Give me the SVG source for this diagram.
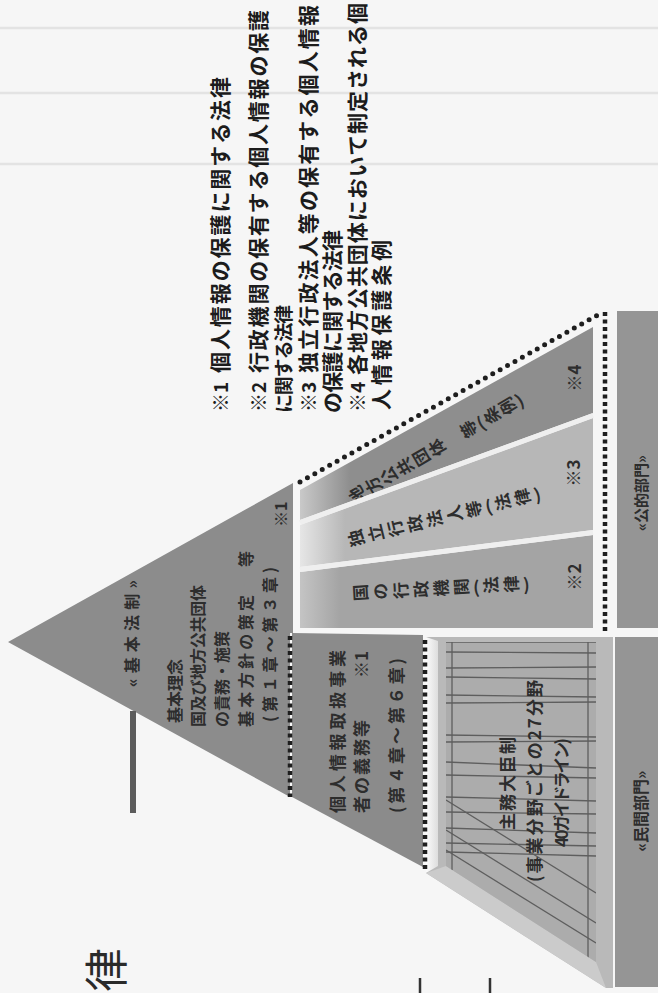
<svg xmlns="http://www.w3.org/2000/svg" width="658" height="993" viewBox="0 0 658 993">
<style>
.t{font-family:'Noto Sans CJK JP','Noto Sans',sans-serif;font-weight:700;fill:#2d2d2d;dominant-baseline:central}
.fn{fill:#1c1c1c;font-size:21px}
.mk{font-size:19px}
.blk{font-size:17px}
.v{writing-mode:vertical-rl}
.sq{stroke:#1e1e1e;stroke-width:4.5;stroke-dasharray:4 3.5;fill:none}
.rd{stroke:#1e1e1e;stroke-width:5;stroke-dasharray:0 8.5;stroke-linecap:round;fill:none}
.pl{stroke:#5e5e5e;stroke-width:1.3;fill:none}
.bar{fill:#959595}
</style>
<defs>
<linearGradient id="g2" gradientUnits="userSpaceOnUse" x1="300" y1="0" x2="345" y2="0"><stop offset="0" stop-color="#e6e6e6"/><stop offset="1" stop-color="#b7b7b7"/></linearGradient>
<linearGradient id="g3" gradientUnits="userSpaceOnUse" x1="300" y1="0" x2="350" y2="0"><stop offset="0" stop-color="#c9c9c9"/><stop offset="1" stop-color="#8e8e8e"/></linearGradient>
<linearGradient id="g1" gradientUnits="userSpaceOnUse" x1="300" y1="0" x2="340" y2="0"><stop offset="0" stop-color="#c4c4c4"/><stop offset="1" stop-color="#a4a4a4"/></linearGradient>
<linearGradient id="gw" gradientUnits="userSpaceOnUse" x1="426" y1="0" x2="440" y2="0"><stop offset="0" stop-color="#fbfbfb"/><stop offset="1" stop-color="#d8d8d8"/></linearGradient>
<clipPath id="panelClip"><polygon points="446,642 596,642 596,962 446,866"/></clipPath>
</defs>
<rect x="0" y="0" width="658" height="993" fill="#f6f6f6"/>
<g id="page-lines" stroke="#e3e3e3" stroke-width="2.5">
<line x1="0" y1="28" x2="658" y2="28"/>
<line x1="0" y1="93" x2="658" y2="93"/>
<line x1="0" y1="164" x2="658" y2="164"/>
</g>

<g id="title">
<text class="t" style="font-size:44px;fill:#2a2a2a;font-weight:400" transform="translate(104,992) rotate(-90)">律</text>
<line x1="420" y1="978" x2="420" y2="993" stroke="#333" stroke-width="2.5"/>
<line x1="490" y1="978" x2="490" y2="993" stroke="#333" stroke-width="2.5"/>
</g>

<g id="node-kihon">
<polygon points="8,642 293,483 293,633 290,633 290,797" fill="#8c8c8c"/>
<text class="t" style="font-size:16px" transform="translate(131,687) rotate(-90)" textLength="107" lengthAdjust="spacing">«基本法制»</text>
<text class="t" style="font-size:16px" transform="translate(174,723) rotate(-90)">基本理念</text>
<text class="t" style="font-size:16px" transform="translate(197,727) rotate(-90)" textLength="142" lengthAdjust="spacing">国及び地方公共団体</text>
<text class="t" style="font-size:16px" transform="translate(221,727) rotate(-90)">の責務・施策</text>
<text class="t" style="font-size:16px" transform="translate(245,727) rotate(-90)" textLength="132" lengthAdjust="spacing">基本方針の策定</text>
<text class="t" style="font-size:16px" transform="translate(245,567) rotate(-90)">等</text>
<text class="t" style="font-size:16px" transform="translate(269,722) rotate(-90)" textLength="155" lengthAdjust="spacing">(第１章〜第３章)</text>
<text class="t" style="font-size:16px" transform="translate(280,527) rotate(-90)">※1</text>
</g>

<g id="node-private-duty">
<polygon points="292,633 423,635 423,867 292,797" fill="#8b8b8b"/>
<text class="t blk" transform="translate(336,813) rotate(-90)" textLength="163" lengthAdjust="spacing">個人情報取扱事業</text>
<text class="t blk" transform="translate(360,813) rotate(-90)" textLength="93" lengthAdjust="spacing">者の義務等</text>
<text class="t blk" transform="translate(360,678) rotate(-90)">※1</text>
<text class="t blk" transform="translate(395,813) rotate(-90)" textLength="155" lengthAdjust="spacing">(第４章〜第６章)</text>
</g>

<g id="node-private-minister">
<polygon points="426,637 613,637 613,988 606,988 426,873" fill="#b9b9b9"/>
<polygon points="426,637 438,641 438,866 426,873" fill="url(#gw)"/>
<polygon points="426,873 446,866 596,962 606,988" fill="#cbcbcb"/>
<polygon points="446,642 596,642 596,962 446,866" fill="#acacac"/>
<g clip-path="url(#panelClip)">
<g class="pl">
<line x1="446" y1="652" x2="596" y2="653"/>
<line x1="446" y1="668" x2="596" y2="667"/>
<line x1="446" y1="677" x2="596" y2="679"/>
<line x1="446" y1="695" x2="596" y2="697"/>
<line x1="446" y1="703" x2="596" y2="702"/>
<line x1="446" y1="735" x2="596" y2="737"/>
<line x1="446" y1="742" x2="596" y2="741"/>
<line x1="446" y1="762" x2="596" y2="768"/>
<line x1="446" y1="775" x2="596" y2="778"/>
<line x1="446" y1="797" x2="596" y2="801"/>
<line x1="446" y1="812" x2="596" y2="814"/>
<line x1="446" y1="828" x2="596" y2="833"/>
<line x1="446" y1="843" x2="596" y2="846"/>
<line x1="446" y1="852" x2="596" y2="856"/>
<line x1="446" y1="800" x2="596" y2="893"/>
<line x1="446" y1="830" x2="596" y2="923"/>
<line x1="446" y1="850" x2="596" y2="943"/>
<line x1="452" y1="642" x2="452" y2="870"/>
<line x1="588" y1="642" x2="588" y2="958"/>
<line x1="446" y1="642" x2="596" y2="642"/>
</g>
</g>
<text class="t blk" transform="translate(506,830) rotate(-90)" textLength="93" lengthAdjust="spacing">主務大臣制</text>
<text class="t blk" transform="translate(533,882) rotate(-90)" textLength="202" lengthAdjust="spacing">(事業分野ごとの27分野</text>
<text class="t blk" transform="translate(560,847) rotate(-90)" textLength="109" lengthAdjust="spacing">40ガイドライン)</text>
</g>

<g id="node-public-national">
<polygon points="300,572 593,535 593,628 300,628" fill="url(#g1)"/>
<text class="t blk v" style="letter-spacing:3.2px" transform="translate(352,593) rotate(-93.2)">国の行政機関(法律)</text>
<text class="t blk" transform="translate(573,577) rotate(-90)" text-anchor="middle">※2</text>
</g>
<g id="node-public-agency">
<polygon points="300,525 593,418 593,530 300,567" fill="url(#g2)"/>
<text class="t blk v" style="letter-spacing:3.2px" transform="translate(348,540) rotate(-103.8)">独立行政法人等(法律)</text>
<text class="t blk" transform="translate(572,473) rotate(-90)" text-anchor="middle">※3</text>
</g>
<g id="node-public-local">
<polygon points="300,490 593,327 593,413 300,520" fill="url(#g3)"/>
<text class="t blk v" style="letter-spacing:1.5px" transform="translate(350,499) rotate(-120.5)">地方公共団体　等(条例)</text>
<text class="t blk" transform="translate(573,378) rotate(-90)" text-anchor="middle">※4</text>
</g>
<g id="bevels" stroke="#efefef" stroke-width="5">
<line x1="300" y1="569.5" x2="593" y2="532.5"/>
<line x1="300" y1="522.5" x2="593" y2="415.5"/>
</g>

<g id="node-bar-public">
<rect class="bar" x="617" y="311" width="41" height="317"/>
<text class="t" style="font-size:15px" transform="translate(640,493) rotate(-90)" text-anchor="middle">«公的部門»</text>
</g>
<g id="node-bar-private">
<rect class="bar" x="615" y="637" width="43" height="350"/>
<text class="t" style="font-size:16px" transform="translate(640,811) rotate(-90)" text-anchor="middle">«民間部門»</text>
</g>

<g id="connectors">
<line x1="133" y1="711" x2="133" y2="813" stroke="#5c5c5c" stroke-width="6"/>
<line class="sq" x1="290" y1="636" x2="290" y2="797"/>
<line class="sq" x1="425" y1="640" x2="425" y2="872"/>
<line class="sq" x1="605" y1="312" x2="605" y2="634"/>
<line class="rd" x1="300" y1="482" x2="603" y2="312"/>
</g>

<g id="footnotes">
<text class="t fn mk" transform="translate(219,412) rotate(-90)">※1</text>
<text class="t fn" transform="translate(219,373) rotate(-90)" textLength="296" lengthAdjust="spacing">個人情報の保護に関する法律</text>
<text class="t fn mk" transform="translate(257,412) rotate(-90)">※2</text>
<text class="t fn" transform="translate(257,373) rotate(-90)" textLength="363" lengthAdjust="spacing">行政機関の保有する個人情報の保護</text>
<text class="t fn" style="font-size:19px" transform="translate(282,413) rotate(-90)" textLength="108" lengthAdjust="spacing">に関する法律</text>
<text class="t fn mk" transform="translate(307,412) rotate(-90)">※3</text>
<text class="t fn" transform="translate(307,373) rotate(-90)" textLength="368" lengthAdjust="spacing">独立行政法人等の保有する個人情報</text>
<text class="t fn" transform="translate(331,413) rotate(-90)" textLength="183" lengthAdjust="spacing">の保護に関する法律</text>
<text class="t fn mk" transform="translate(356,412) rotate(-90)">※4</text>
<text class="t fn" transform="translate(356,375) rotate(-90)" textLength="372" lengthAdjust="spacing">各地方公共団体において制定される個</text>
<text class="t fn" transform="translate(380,410) rotate(-90)" textLength="170" lengthAdjust="spacing">人情報保護条例</text>
</g>
</svg>
